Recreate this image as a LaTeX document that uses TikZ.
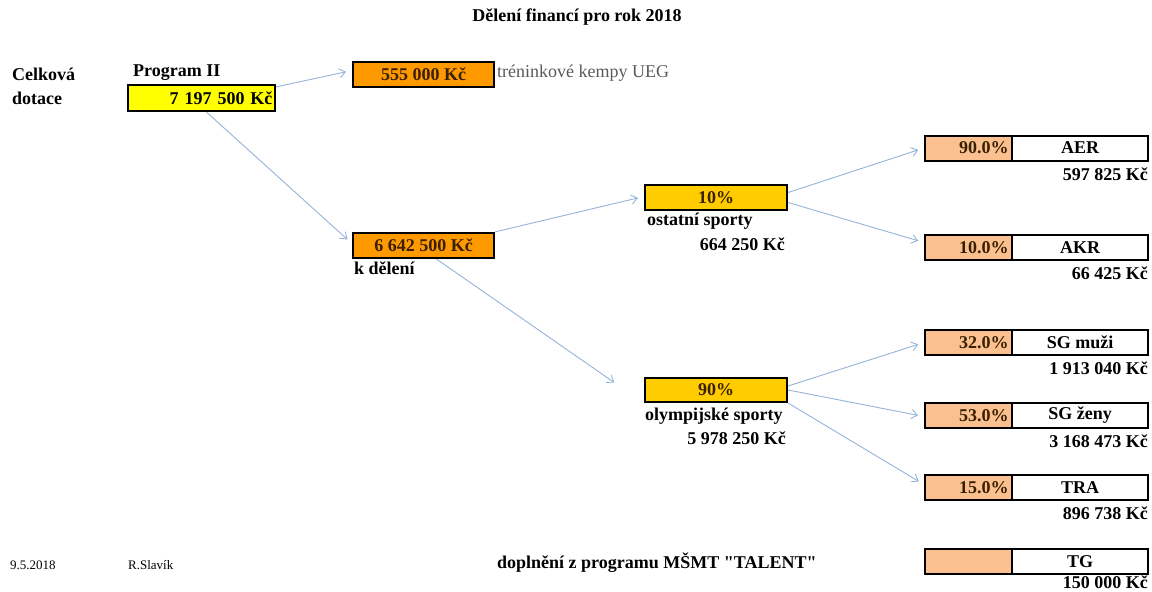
\documentclass[tikz,border=0pt]{standalone}
\usepackage{fontspec}
\setmainfont{Liberation Serif}
\newfontfamily\rawserif{Liberation Serif}
\usetikzlibrary{arrows.meta}
\definecolor{yelfill}{HTML}{FFFF00}
\definecolor{orgfill}{HTML}{FF9900}
\definecolor{goldfill}{HTML}{FFCC00}
\definecolor{peachfill}{HTML}{FAC090}
\definecolor{arrcol}{HTML}{95B3D7}
\definecolor{greytxt}{HTML}{595959}
\definecolor{boxtxt}{HTML}{3A2000}
\begin{document}
\begin{tikzpicture}[x=1pt,y=-1pt,
  bf/.style={font=\fontsize{18}{20}\selectfont\bfseries},
  box/.style={draw=black, line width=2.2pt, minimum height=25pt, inner sep=0pt, bf},
  pct/.style={box, fill=peachfill, line width=2pt, text width=80pt, inner xsep=3.5pt, align=right, text=boxtxt},
  nam/.style={box, fill=white, line width=2pt, minimum width=136pt},
  lbl/.style={bf, inner sep=0pt},
  arr/.style={draw=arrcol, line width=0.9pt, -{Straight Barb[length=6pt,width=9pt]}, shorten >=6pt}
]
\useasboundingbox (0,0) rectangle (1152,592);

% title
\node[lbl] (title) at (577,17) {Dělení financí pro rok 2018};

% left labels
\node[lbl, anchor=west] (celk) at (12,74) {Celková};
\node[lbl, anchor=west] (dot) at (12,98) {dotace};
\node[lbl, anchor=west] (prog) at (133,73) {Program II};
\node[box, fill=yelfill, text width=142pt, inner xsep=2.5pt, align=right, minimum height=26pt] (tot) at (201.5,98) {7 197 500 Kč};

% first level
\node[box, fill=orgfill, minimum width=141pt, text=boxtxt] (kemp) at (423.5,74.5) {555 000 Kč};
\node[anchor=west, inner sep=0pt, text=greytxt, font=\fontsize{18}{20}\selectfont] (kempt) at (497,73) {tréninkové kempy UEG};
\node[box, fill=orgfill, minimum width=141pt, text=boxtxt] (del) at (423.5,245.5) {6 642 500 Kč};
\node[lbl, anchor=west] (delt) at (354,268) {k dělení};

% second level
\node[box, fill=goldfill, minimum width=142pt, text=boxtxt] (ten) at (716,197.5) {10\%};
\node[lbl, anchor=west] (tent) at (647,221) {ostatní sporty};
\node[lbl, anchor=east] (tena) at (785,244) {664 250 Kč};
\node[box, fill=goldfill, minimum width=142pt, minimum height=24pt, text=boxtxt] (nin) at (716,390) {90\%};
\node[lbl, anchor=west] (nint) at (645,416) {olympijské sporty};
\node[lbl, anchor=east] (nina) at (786,438) {5 978 250 Kč};

% third level
\node[pct] (aerp) at (968.5,148) {90.0\%};
\node[nam] (aern) at (1080,148) {AER};
\node[lbl, anchor=east] (aera) at (1148,174) {597 825 Kč};

\node[pct] (akrp) at (968.5,247.5) {10.0\%};
\node[nam] (akrn) at (1080,247.5) {AKR};
\node[lbl, anchor=east] (akra) at (1148,273) {66 425 Kč};

\node[pct] (smp) at (968.5,342.5) {32.0\%};
\node[nam] (smn) at (1080,342.5) {SG muži};
\node[lbl, anchor=east] (sma) at (1148,368) {1 913 040 Kč};

\node[pct] (szp) at (968.5,415.5) {53.0\%};
\node[nam] (szn) at (1080,415.5) {SG ženy};
\node[lbl, anchor=east] (sza) at (1148,441) {3 168 473 Kč};

\node[pct] (trap) at (968.5,487.5) {15.0\%};
\node[nam] (tran) at (1080,487.5) {TRA};
\node[lbl, anchor=east] (traa) at (1148,513) {896 738 Kč};

\node[pct] (tgp) at (968.5,561.5) {};
\node[nam] (tgn) at (1080,561.5) {TG};
\node[lbl, anchor=east] (tga) at (1148,582) {150 000 Kč};

% footer
\node[anchor=west, inner sep=0pt, font=\fontsize{13}{15}\selectfont] (date) at (10,565) {9.5.2018};
\node[anchor=west, inner sep=0pt, font=\fontsize{13}{15}\selectfont] (auth) at (128,565) {R.Slavík};
\node[lbl, anchor=west] (talent) at (497,563) {doplnění z programu MŠMT {\rawserif\bfseries"}TALENT{\rawserif\bfseries"}};

% connectors
\draw[arr] ([yshift=-3pt]tot.north east) -- ([yshift=4pt]kemp.west);
\draw[arr] ([xshift=5pt]tot.south) -- ([yshift=2pt]del.west);
\draw[arr] (del.north east) -- ([yshift=1pt]ten.west);
\draw[arr, shorten >=36pt] ([xshift=13pt]del.south) -- (nin.south west);
\draw[arr] ([yshift=5pt]ten.east) -- (aerp.west);
\draw[arr] ([yshift=-5pt]ten.east) -- ([yshift=5pt]akrp.west);
\draw[arr] ([yshift=4pt]nin.east) -- (smp.west);
\draw[arr] (nin.east) -- ([yshift=-1pt]szp.west);
\draw[arr] (nin.south east) -- ([yshift=3pt]trap.west);
\end{tikzpicture}
\end{document}
